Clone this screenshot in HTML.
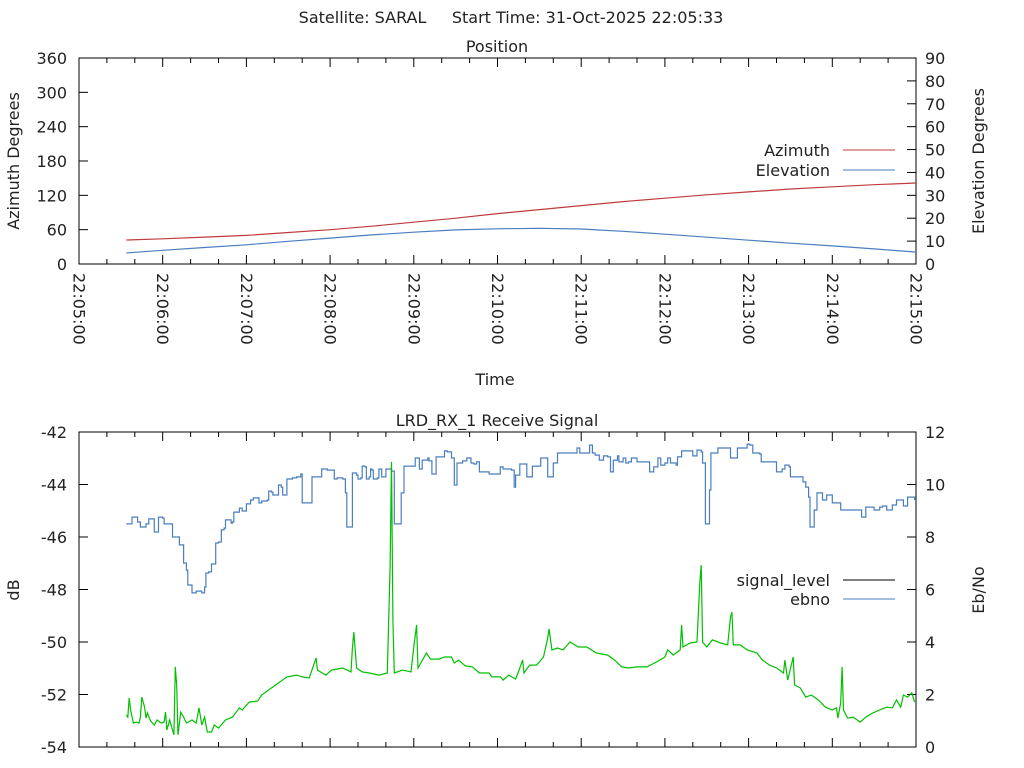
<!DOCTYPE html>
<html><head><meta charset="utf-8"><style>
body{margin:0;background:#fff;}
svg{display:block;font-family:"DejaVu Sans","Liberation Sans",sans-serif;font-size:16px;fill:#222;}
</style></head><body>
<svg id="chart" width="1024" height="768" viewBox="0 0 1024 768" xmlns="http://www.w3.org/2000/svg">
<rect width="1024" height="768" fill="#fff"/>
<text x="511" y="23" text-anchor="middle" xml:space="preserve">Satellite: SARAL     Start Time: 31-Oct-2025 22:05:33</text>
<text x="497" y="52" text-anchor="middle">Position</text>
<text x="497" y="426" text-anchor="middle">LRD_RX_1 Receive Signal</text>
<text x="495" y="385" text-anchor="middle">Time</text>
<text transform="translate(19,161) rotate(-90)" text-anchor="middle">Azimuth Degrees</text>
<text transform="translate(984,161) rotate(-90)" text-anchor="middle">Elevation Degrees</text>
<text transform="translate(19,590) rotate(-90)" text-anchor="middle">dB</text>
<text transform="translate(984,590) rotate(-90)" text-anchor="middle">Eb/No</text>
<g id="topPlot"></g>
<g id="botPlot"></g>
</svg>
<script>
// Position data
const posTimes = [34, 60, 90, 120, 150, 180, 210, 240, 270, 300, 330, 360, 390, 420, 450, 480, 510, 540, 570, 600];
const azimuthValues = [42, 44, 47, 50, 55, 60, 66, 73, 80, 88, 95, 102, 109, 115, 121, 126, 131, 135, 138.5, 141.5];
const elevationValues = [4.8, 6.0, 7.2, 8.4, 9.9, 11.3, 12.7, 13.9, 14.9, 15.4, 15.6, 15.3, 14.3, 13.0, 11.7, 10.4, 9.1, 7.9, 6.6, 5.2];
const timeTickLabels = ["22:05:00","22:06:00","22:07:00","22:08:00","22:09:00","22:10:00","22:11:00","22:12:00","22:13:00","22:14:00","22:15:00"];
const azTicks = [0, 60, 120, 180, 240, 300, 360];
const elTicks = [0, 10, 20, 30, 40, 50, 60, 70, 80, 90];
const dbTicks = [-54, -52, -50, -48, -46, -44, -42];
const ebnoTicks = [0, 2, 4, 6, 8, 10, 12];
// Signal level (dB)
const sigTimes = [34,37,38,41,42,44,47,48,50,52,54,56,57,60,61,66,67,70,72,74,75,77,78,81,84,86,88,90,91,93,95,97,98,100,102,104,105,108,109,110,111,115,117,120,123,125,128,129,131,135,136,138,139,142,143,145,146,148,149,153,156,159,160,166,167,172,174,178,183,185,189,191,192,195,196,199,200,202,203,205,206,208,209,210,211,214,215,217,218,220,224,226,229,231,233,239,241,244,246,250,251,253,256,260,262,264,267,269,270,271,275,278,281,283,285,287,292,294,301,302,304,310,312,313,316,319,321,323,325,329,331,335,336,338,340,343,354,357,359,364,366,368,370,373,376,379,381,383,386,387,390,392,394,396,400,407,409,412,415,417,420,422,424,428,429,432,437,440,443,446,447,449,450,452,453,458,465,467,472,475,479,481,483,488,489,499,500,504,506,509,510,517,519,521,523,524,526,527,529,532,533,536,538,540,545,546,556,561,564,569,570,574,576,579,583,586,590,591,594,597,599];
const sigValues = [-45.50,-45.50,-45.24,-45.24,-45.43,-45.62,-45.62,-45.50,-45.31,-45.31,-45.81,-45.81,-45.24,-45.28,-45.50,-45.50,-46.00,-46.00,-46.30,-46.30,-46.99,-47.26,-47.83,-48.13,-48.06,-48.06,-48.13,-47.90,-47.37,-47.33,-47.03,-47.03,-46.23,-46.19,-45.73,-45.66,-45.35,-45.35,-45.47,-45.43,-45.05,-44.90,-45.01,-44.74,-44.59,-44.51,-44.51,-44.70,-44.63,-44.59,-44.25,-44.29,-44.40,-44.40,-44.02,-44.10,-44.40,-44.40,-43.79,-43.75,-43.71,-43.60,-44.70,-44.70,-43.71,-43.71,-43.41,-43.45,-43.79,-43.75,-43.79,-44.32,-45.62,-45.62,-43.56,-43.64,-43.79,-43.75,-43.30,-43.33,-43.79,-43.71,-43.41,-43.45,-43.79,-43.75,-43.41,-43.71,-43.71,-43.41,-43.49,-45.50,-45.50,-44.32,-43.30,-43.30,-42.99,-43.41,-43.07,-42.99,-43.10,-43.60,-42.95,-42.95,-42.72,-42.76,-42.99,-44.02,-44.02,-43.18,-43.10,-42.99,-43.18,-43.22,-43.14,-43.52,-43.52,-43.60,-43.60,-43.33,-43.41,-43.45,-44.10,-43.64,-43.22,-43.22,-43.71,-43.71,-43.30,-43.30,-42.99,-42.99,-43.71,-43.71,-43.18,-42.80,-42.80,-42.61,-42.80,-42.80,-42.50,-42.80,-42.88,-43.07,-42.91,-42.95,-43.52,-43.07,-42.91,-43.14,-42.99,-43.18,-43.14,-42.99,-43.14,-43.14,-43.52,-43.33,-42.99,-43.26,-43.18,-42.99,-43.18,-43.26,-42.95,-42.72,-42.72,-42.91,-42.69,-42.76,-43.18,-45.50,-45.50,-44.21,-42.80,-42.61,-42.61,-42.99,-42.61,-42.61,-42.46,-42.50,-42.80,-42.84,-43.14,-43.14,-43.52,-43.41,-43.26,-43.33,-43.71,-43.71,-43.90,-44.10,-44.48,-45.62,-45.62,-44.97,-44.32,-44.32,-44.59,-44.40,-44.40,-44.70,-44.70,-44.97,-44.97,-45.24,-44.86,-44.86,-44.97,-44.86,-44.82,-44.97,-44.78,-44.59,-44.59,-44.82,-44.48,-44.48,-44.59];
// Eb/No
const ebTimes = [34,35,36,37,39,41,43,44,45,47,48,49,51,52,54,56,59,61,62,63,65,67,68,69,70,71,72,73,75,77,81,84,86,88,90,92,95,97,100,105,110,115,117,122,128,131,138,143,149,156,160,165,170,171,177,181,189,195,196,197,199,203,208,215,221,223,224,225,226,232,238,240,242,243,249,252,258,262,267,269,272,277,282,287,294,296,301,302,304,308,313,315,318,319,323,328,333,336,337,339,343,347,352,358,364,371,379,384,389,394,400,407,414,420,422,426,431,432,433,438,443,445,446,447,450,454,460,465,467,468,469,474,479,486,490,495,500,505,506,508,511,512,513,517,521,525,530,535,540,543,544,546,547,548,551,555,560,564,569,574,579,583,586,589,591,594,597,599];
const ebValues = [1.22,1.14,1.87,1.41,0.91,0.95,0.91,1.14,1.90,1.52,1.10,1.30,1.03,0.95,0.84,1.03,0.91,0.95,1.33,0.65,1.03,0.65,0.46,3.05,2.36,0.46,0.91,1.33,1.14,0.91,1.03,0.91,1.49,0.84,1.14,0.57,0.57,0.84,0.72,1.03,1.14,1.49,1.41,1.71,1.75,1.98,2.25,2.44,2.67,2.74,2.67,2.63,3.39,2.93,2.74,2.93,3.01,2.86,3.77,4.38,3.01,2.86,2.82,2.74,2.82,6.86,10.86,4.84,2.82,2.93,2.86,3.81,4.65,3.01,3.58,3.35,3.35,3.43,3.43,3.20,3.31,3.09,3.05,2.82,2.82,2.67,2.67,2.67,2.55,2.74,2.59,2.86,3.31,2.82,3.12,3.12,3.43,4.15,4.50,3.70,3.77,3.70,4.00,3.81,3.81,3.58,3.50,3.31,3.05,3.01,3.05,3.05,3.24,3.43,3.70,3.50,3.70,4.65,3.81,3.96,4.00,6.25,6.93,4.00,3.81,4.08,3.96,3.89,4.95,5.14,3.89,3.89,3.70,3.58,3.31,3.12,3.01,2.82,3.31,2.55,3.20,3.43,2.36,2.25,1.90,1.98,1.79,1.52,1.41,1.49,1.10,1.68,3.05,1.41,1.10,1.14,0.95,1.14,1.30,1.41,1.52,1.49,1.79,1.52,1.98,1.90,2.06,1.71];

const NS = "http://www.w3.org/2000/svg";
const X0 = 79, X1 = 916;
const xs = t => X0 + (t / 600) * (X1 - X0);
const T0 = 58, TB = 264, B0 = 432, BB = 747;
const yAz = v => TB - v / 360 * (TB - T0);
const yEl = v => TB - v / 90 * (TB - T0);
const yDb = v => BB - (v + 54) / 12 * (BB - B0);
const yEb = v => BB - v / 12 * (BB - B0);
function mk(tag, attrs, parent) { const e = document.createElementNS(NS, tag); for (const k in attrs) e.setAttribute(k, attrs[k]); parent.appendChild(e); return e; }
const gTop = document.getElementById('topPlot'), gBot = document.getElementById('botPlot');

function frame(g, y0, y1) {
  const r = mk('rect', {x: X0, y: y0, width: X1 - X0, height: y1 - y0, fill: 'none', stroke: '#000', 'stroke-width': 1}, g);
  
  
  for (let k = 0; k <= 30; k++) {
    const x = xs(k * 20), len = (k % 3 === 0) ? 9 : 5;
    mk('line', {x1: x, x2: x, y1: y1, y2: y1 - len, stroke: '#000'}, g);
    mk('line', {x1: x, x2: x, y1: y0, y2: y0 + len, stroke: '#000'}, g);
  }
}
frame(gTop, T0, TB);
frame(gBot, B0, BB);

function yAxis(g, ticks, f, side) {
  ticks.forEach(v => {
    const y = f(v);
    if (side === 'l') mk('line', {x1: X0, x2: X0 + 9, y1: y, y2: y, stroke: '#000'}, g);
    else mk('line', {x1: X1, x2: X1 - 9, y1: y, y2: y, stroke: '#000'}, g);
    const t = mk('text', {x: side === 'l' ? X0 - 12 : X1 + 9, y: y + 6, 'text-anchor': side === 'l' ? 'end' : 'start'}, g);
    
    
    t.textContent = v;
  });
}
yAxis(gTop, azTicks, yAz, 'l');
yAxis(gTop, elTicks, yEl, 'r');
yAxis(gBot, dbTicks, yDb, 'l');
yAxis(gBot, ebnoTicks, yEb, 'r');

timeTickLabels.forEach((lab, i) => {
  const x = xs(i * 60);
  const t = mk('text', {transform: `translate(${x},273) rotate(90)`, 'text-anchor': 'start', 'dominant-baseline': 'central'}, gTop);
  
  
  t.textContent = lab;
});

function line(g, ts, vs, f, color, name, step) {
  let d = '';
  const n = Math.min(ts.length, vs.length);
  for (let i = 0; i < n; i++) {
    const x = xs(ts[i]).toFixed(1), y = f(vs[i]).toFixed(1);
    if (i === 0) d += `M${x},${y}`;
    else if (step) d += `H${x}V${y}`;
    else d += `L${x},${y}`;
  }
  const p = mk('path', {d: d, fill: 'none', stroke: color, 'stroke-width': 1.2}, g);
  
  
}
line(gTop, posTimes, azimuthValues, yAz, '#c03c3c', 'azimuth-line', false);
line(gTop, posTimes, elevationValues, yEl, '#4a7ebf', 'elevation-line', false);
line(gBot, sigTimes, sigValues, yDb, '#4a7ebf', 'signal-level-line', true);
line(gBot, ebTimes, ebValues, yEb, '#00c000', 'ebno-line', false);

function legend(g, y, label, color, name) {
  const t = mk('text', {x: 830, y: y + 6, 'text-anchor': 'end'}, g);
  
  
  t.textContent = label;
  const l = mk('line', {x1: 843, x2: 895, y1: y, y2: y, stroke: color, 'stroke-width': 1}, g);
  
  
}
legend(gTop, 150, 'Azimuth', '#c03c3c', 'legend-azimuth');
legend(gTop, 170, 'Elevation', '#4a7ebf', 'legend-elevation');
legend(gBot, 580, 'signal_level', '#000', 'legend-signal-level');
legend(gBot, 599, 'ebno', '#4a7ebf', 'legend-ebno');
</script>
</body></html>
